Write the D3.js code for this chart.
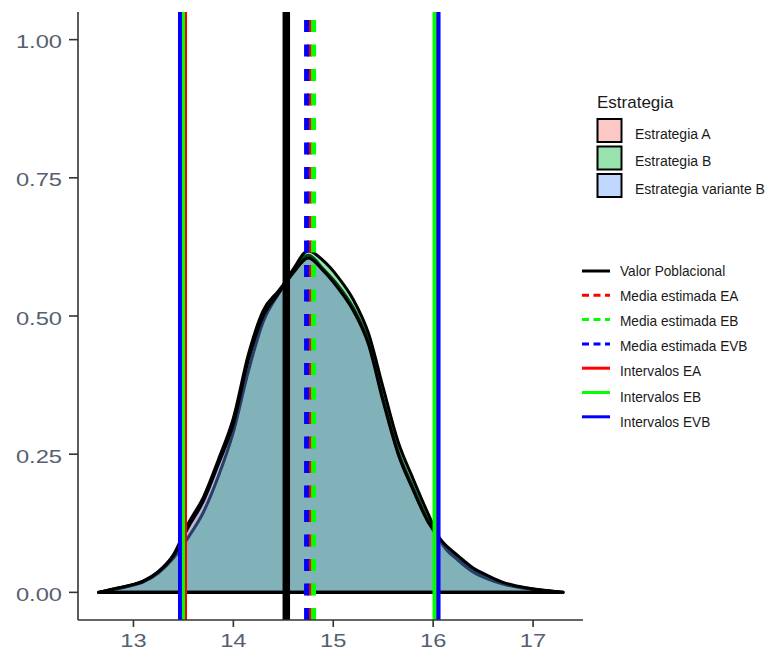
<!DOCTYPE html>
<html><head><meta charset="utf-8">
<script src="https://cdn.jsdelivr.net/npm/d3@7"></script>
<style>body{margin:0;background:#fff}svg{display:block}text{font-family:"Liberation Sans",Arial,sans-serif}</style>
</head><body>
<svg id="chart" width="772" height="654"></svg>
<script>
// ---- data ----
const xGrid = [12.65,12.8,12.95,13.1,13.25,13.4,13.55,13.7,13.85,14.0,14.15,14.3,14.45,14.6,14.75,14.9,15.05,15.2,15.35,15.5,15.65,15.8,15.95,16.1,16.25,16.4,16.55,16.7,16.85,17.0,17.15,17.3];
const densA  = [0,0.006,0.012,0.021,0.038,0.068,0.125,0.172,0.24,0.315,0.43,0.51,0.545,0.58,0.61,0.585,0.555,0.515,0.455,0.35,0.255,0.19,0.13,0.088,0.062,0.04,0.026,0.016,0.01,0.006,0.003,0];
const densB  = [0,0.005,0.011,0.019,0.035,0.062,0.10,0.145,0.21,0.29,0.40,0.49,0.54,0.585,0.618,0.6,0.57,0.53,0.47,0.37,0.272,0.205,0.142,0.085,0.058,0.037,0.024,0.015,0.009,0.005,0.002,0];
const densVB = [0,0.006,0.012,0.02,0.037,0.066,0.118,0.165,0.232,0.305,0.42,0.5,0.54,0.578,0.605,0.582,0.55,0.51,0.45,0.345,0.25,0.185,0.127,0.09,0.066,0.044,0.03,0.018,0.011,0.006,0.003,0];
const strategies = ["Estrategia A","Estrategia B","Estrategia variante B"];
const popValue = 14.53;
const meanValues = [14.763, 14.803, 14.733];      // EA, EB, EVB
const intervalLow = [13.516, 13.496, 13.466];     // EA, EB, EVB
const intervalHigh = [16.029, 16.014, 16.054];    // EA, EB, EVB
const xTicks = [13,14,15,16,17];
const yTicks = [0,0.25,0.5,0.75,1];
const lineLegend = ["Valor Poblacional","Media estimada EA","Media estimada EB","Media estimada EVB","Intervalos EA","Intervalos EB","Intervalos EVB"];

// ---- styles ----
const fills = ["#F8766D","#00BA38","#619CFF"];
const lineCols = ["#ff0000","#00ff00","#0000ff"];

const svg = d3.select("#chart");
const x = d3.scaleLinear().domain([12.445,17.5]).range([78,583]);
const y = d3.scaleLinear().domain([-0.05,1.05]).range([620,12]);

function fit(sel, f){
  sel.each(function(){
    const w = this.getComputedTextLength();
    d3.select(this).attr("textLength", w*f).attr("lengthAdjust","spacingAndGlyphs");
  });
}

// densities
const series = [densA, densB, densVB];
const area = d3.area().x((d,i)=>x(xGrid[i])).y0(y(0)).y1(d=>y(d)).curve(d3.curveMonotoneX);
svg.append("g").selectAll("path").data(series).join("path")
  .attr("d", d=>area(d))
  .attr("fill",(d,i)=>fills[i]).attr("fill-opacity",0.4)
  .attr("stroke","#000").attr("stroke-width",3).attr("stroke-linejoin","round");

// vertical lines
const vg = svg.append("g");
const [yTop, yBot] = [y.range()[1], y.range()[0]];
vg.append("line").attr("x1",x(popValue)).attr("x2",x(popValue)).attr("y1",yTop).attr("y2",yBot)
  .attr("stroke","#000").attr("stroke-width",7.5);
[0,1,2].forEach(i=>{
  [intervalLow[i], intervalHigh[i]].forEach(v=>{
    vg.append("line").attr("x1",x(v)).attr("x2",x(v)).attr("y1",yTop).attr("y2",yBot)
      .attr("stroke",lineCols[i]).attr("stroke-width",4);
  });
});
[0,1,2].forEach(i=>{
  vg.append("line").attr("x1",x(meanValues[i])).attr("x2",x(meanValues[i])).attr("y1",yTop).attr("y2",yBot)
    .attr("stroke",lineCols[i]).attr("stroke-width",5)
    .attr("stroke-dasharray","12,12.5").attr("stroke-dashoffset",16.5);
});

// axes
const ax = svg.append("g");
ax.append("line").attr("x1",78).attr("x2",78).attr("y1",12).attr("y2",620).attr("stroke","#333").attr("stroke-width",1.6);
ax.append("line").attr("x1",78).attr("x2",583).attr("y1",620).attr("y2",620).attr("stroke","#333").attr("stroke-width",1.6);
ax.selectAll(".yt").data(yTicks).join("line").attr("x1",69).attr("x2",78).attr("y1",d=>y(d)).attr("y2",d=>y(d)).attr("stroke","#333").attr("stroke-width",1.6);
ax.selectAll(".xt").data(xTicks).join("line").attr("x1",d=>x(d)).attr("x2",d=>x(d)).attr("y1",620).attr("y2",627).attr("stroke","#333").attr("stroke-width",1.6);
const yl = ax.selectAll(".yl").data(yTicks).join("text")
  .attr("x",62).attr("y",d=>y(d)+8.5).attr("text-anchor","end")
  .attr("font-size",18.5).attr("fill","#566070").text(d=>d3.format(".2f")(d));
fit(yl,1.28);
const xl = ax.selectAll(".xl").data(xTicks).join("text")
  .attr("x",d=>x(d)).attr("y",647).attr("text-anchor","middle")
  .attr("font-size",18.5).attr("fill","#566070").text(d=>d);
fit(xl,1.28);

// legend 1
const lg = svg.append("g");
lg.append("text").attr("x",597).attr("y",108).attr("font-size",17).attr("fill","#1a1a1a").text("Estrategia");
strategies.forEach((s,i)=>{
  const yy = 119 + i*27.5;
  lg.append("rect").attr("x",597.5).attr("y",yy).attr("width",24).attr("height",23)
    .attr("fill",fills[i]).attr("fill-opacity",0.4).attr("stroke","#000").attr("stroke-width",2);
  lg.append("text").attr("x",635).attr("y",yy+19.5).attr("font-size",14).attr("fill","#1a1a1a").text(s);
});

// legend 2
const lg2 = svg.append("g");
const legCols = ["#000"].concat(lineCols, lineCols);
lineLegend.forEach((s,i)=>{
  const ly = 271 + i*24.3;
  lg2.append("line").attr("x1",582).attr("x2",610).attr("y1",ly).attr("y2",ly)
    .attr("stroke",legCols[i]).attr("stroke-width",3)
    .attr("stroke-dasharray",(i>=1&&i<=3)?"7,4.5":null);
  const t = lg2.append("text").attr("x",620).attr("y",276+i*25.1).attr("font-size",15).attr("fill","#1a1a1a").text(s);
  fit(t,0.91);
});
</script>
</body></html>
